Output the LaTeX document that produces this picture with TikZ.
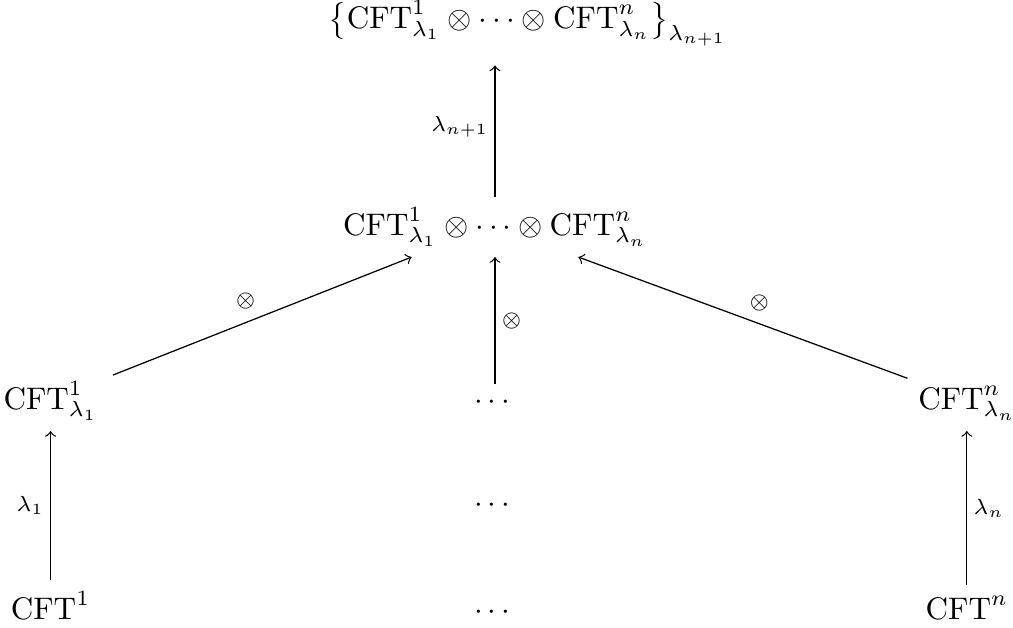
\documentclass[tikz,border=0pt]{standalone}
\usepackage{amsmath}
\usepackage{tikz}

\begin{document}
\begin{tikzpicture}[cell/.style={anchor=base}, lab/.style={font=\scriptsize, inner sep=2pt}]
    \useasboundingbox (0,0) rectangle (11.42,7.07);
    % rows, top to bottom
    \node[anchor=base west] (sum) at (3.58,6.75) {$\big\{\mathrm{CFT}^1_{\lambda_1}\otimes\cdots\otimes\mathrm{CFT}^n_{\lambda_n}\big\}_{\lambda_{n+1}}$};
    \node[cell] (prod) at (5.58,4.418) {$\mathrm{CFT}^1_{\lambda_1}\otimes\cdots\otimes\mathrm{CFT}^n_{\lambda_n}$};
    \node[cell] (fa) at (0.57,2.457) {$\mathrm{CFT}^1_{\lambda_1}$};
    \node[cell] (fdots) at (5.58,2.457) {$\cdots$};
    \node[cell] (fn) at (10.90,2.457) {$\mathrm{CFT}^n_{\lambda_n}$};
    \node[cell] (mdots) at (5.58,1.296) {$\cdots$};
    \node[cell] (a) at (0.57,0.09) {$\mathrm{CFT}^1$};
    \node[cell] (bdots) at (5.58,0.09) {$\cdots$};
    \node[cell] (n) at (10.90,0.09) {$\mathrm{CFT}^n$};
    % arrows
    \draw[->] (a) -- (fa) node[midway, left, lab] {$\lambda_1$};
    \draw[->] (n) -- (fn) node[midway, right, lab] {$\lambda_n$};
    \draw[->] ([shift={(0.05,0.29)}]fa.east) -- ([xshift=-0.94cm]prod.south) node[midway, above left, lab] {$\otimes$};
    \draw[->] ([shift={(0,0.28)}]fn.west) -- ([xshift=0.94cm]prod.south) node[midway, above right, lab] {$\otimes$};
    \draw[->] (fdots) -- (prod) node[midway, right, lab] {$\otimes$};
    \draw[->, shorten >=2.5pt] (prod) -- (prod |- sum.south) node[midway, left, lab] {$\lambda_{n+1}$};
\end{tikzpicture}
\end{document}
